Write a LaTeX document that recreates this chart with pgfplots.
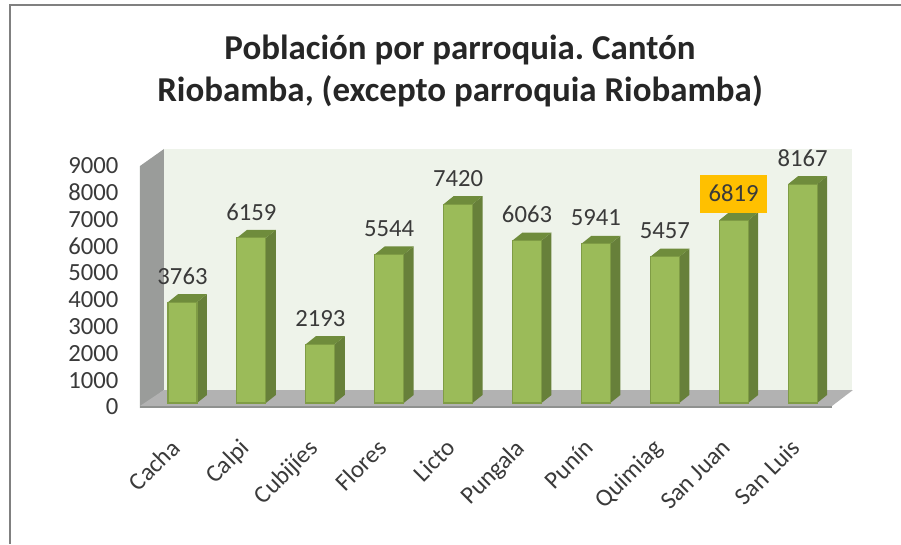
\documentclass[border=0pt]{standalone}
\usepackage{pgfplots}
\pgfplotsset{compat=1.18}
\usepackage{fontspec}
\setmainfont{Carlito}
\frenchspacing
\definecolor{barfront}{HTML}{9BBB59}
\definecolor{barline}{HTML}{7F9C45}
\definecolor{barside}{HTML}{67803A}
\definecolor{bartop}{HTML}{6F8C3C}
\definecolor{wallback}{HTML}{EEF3EA}
\definecolor{wallleft}{HTML}{9A9C9A}
\definecolor{floorc}{HTML}{B2B2B2}
\definecolor{flooredge}{HTML}{8F918F}
\definecolor{txt}{HTML}{3A3A3A}
\definecolor{barhl}{HTML}{FFC000}
\begin{document}
\begin{tikzpicture}[x=0.75pt,y=0.75pt]
\path[use as bounding box] (0,0) rectangle (901,544);
\draw[gray,line width=0.9pt] (901,539) -- (10,539) -- (10,0);
\node[font=\fontsize{26.2}{31.5}\selectfont\bfseries,text=black!85,align=center] at (460,473) {Población por parroquia. Cantón\\Riobamba, (excepto parroquia Riobamba)};
\begin{axis}[
  at={(93.75pt,99pt)},anchor=south west,
  scale only axis,width=551.25pt,height=200.25pt,
  xmin=-0.8345,xmax=9.833,ymin=-336,ymax=9627,
  axis line style={draw=none},clip=false,
  major tick length=0pt,
  xtick={0,1,2,3,4,5,6,7,8,9},
  xticklabels={Cacha,Calpi,Cubijíes,Flores,Licto,Pungala,Punín,Quimiag,San Juan,San Luis},
  xticklabel style={rotate=45,anchor=north east,font=\fontsize{18.5}{20}\selectfont,text=txt,xshift=-17pt,yshift=-3.1pt},
  ytick={0,1000,2000,3000,4000,5000,6000,7000,8000,9000},
  yticklabel style={font=\fontsize{18.5}{20}\selectfont,text=txt,yshift=-3pt,xshift=-1.5pt},
  /pgf/number format/assume math mode=true,
  /pgf/number format/.cd,set thousands separator={},
]
% walls and floor
\addplot[fill=wallback,draw=none] coordinates {(-0.2685,485)(9.717,485)(9.717,9478)(-0.2685,9478)} -- cycle;
\addplot[fill=wallleft,draw=none] coordinates {(-0.617,-187)(-0.2685,485)(-0.2685,9478)(-0.617,8843)} -- cycle;
\addplot[fill=floorc,draw=none] coordinates {(-0.617,-112)(-0.2685,485)(9.731,485)(9.426,-112)} -- cycle;
\addplot[fill=flooredge,draw=none] coordinates {(-0.617,-187)(-0.617,-112)(9.426,-112)(9.426,-187)} -- cycle;
% bar side faces
\addplot[fill=barside,draw=none] coordinates {(0.21,0)(0.355,299)(0.355,4062)(0.21,3763)} -- cycle;
\addplot[fill=barside,draw=none] coordinates {(1.21,0)(1.355,299)(1.355,6458)(1.21,6159)} -- cycle;
\addplot[fill=barside,draw=none] coordinates {(2.21,0)(2.355,299)(2.355,2492)(2.21,2193)} -- cycle;
\addplot[fill=barside,draw=none] coordinates {(3.21,0)(3.355,299)(3.355,5843)(3.21,5544)} -- cycle;
\addplot[fill=barside,draw=none] coordinates {(4.21,0)(4.355,299)(4.355,7719)(4.21,7420)} -- cycle;
\addplot[fill=barside,draw=none] coordinates {(5.21,0)(5.355,299)(5.355,6362)(5.21,6063)} -- cycle;
\addplot[fill=barside,draw=none] coordinates {(6.21,0)(6.355,299)(6.355,6240)(6.21,5941)} -- cycle;
\addplot[fill=barside,draw=none] coordinates {(7.21,0)(7.355,299)(7.355,5756)(7.21,5457)} -- cycle;
\addplot[fill=barside,draw=none] coordinates {(8.21,0)(8.355,299)(8.355,7118)(8.21,6819)} -- cycle;
\addplot[fill=barside,draw=none] coordinates {(9.21,0)(9.355,299)(9.355,8466)(9.21,8167)} -- cycle;
% bar top faces
\addplot[fill=bartop,draw=none] coordinates {(-0.21,3763)(-0.065,4062)(0.355,4062)(0.21,3763)} -- cycle;
\addplot[fill=bartop,draw=none] coordinates {(0.79,6159)(0.935,6458)(1.355,6458)(1.21,6159)} -- cycle;
\addplot[fill=bartop,draw=none] coordinates {(1.79,2193)(1.935,2492)(2.355,2492)(2.21,2193)} -- cycle;
\addplot[fill=bartop,draw=none] coordinates {(2.79,5544)(2.935,5843)(3.355,5843)(3.21,5544)} -- cycle;
\addplot[fill=bartop,draw=none] coordinates {(3.79,7420)(3.935,7719)(4.355,7719)(4.21,7420)} -- cycle;
\addplot[fill=bartop,draw=none] coordinates {(4.79,6063)(4.935,6362)(5.355,6362)(5.21,6063)} -- cycle;
\addplot[fill=bartop,draw=none] coordinates {(5.79,5941)(5.935,6240)(6.355,6240)(6.21,5941)} -- cycle;
\addplot[fill=bartop,draw=none] coordinates {(6.79,5457)(6.935,5756)(7.355,5756)(7.21,5457)} -- cycle;
\addplot[fill=bartop,draw=none] coordinates {(7.79,6819)(7.935,7118)(8.355,7118)(8.21,6819)} -- cycle;
\addplot[fill=bartop,draw=none] coordinates {(8.79,8167)(8.935,8466)(9.355,8466)(9.21,8167)} -- cycle;
% front faces with labels
\addplot[ybar,bar width=21.75pt,bar shift=0pt,fill=barfront,draw=barline,line width=0.8pt,
  nodes near coords,point meta=y,
  every node near coord/.style={anchor=center,yshift=19.5pt,font=\fontsize{18.5}{20}\selectfont,text=txt,
    /pgf/number format/.cd,set thousands separator={}}]
  coordinates {(0,3763)(1,6159)(2,2193)(3,5544)(4,7420)(5,6063)(6,5941)(7,5457)(9,8167)};
\addplot[ybar,bar width=21.75pt,bar shift=0pt,fill=barfront,draw=barline,line width=0.8pt,
  nodes near coords,point meta=y,
  every node near coord/.style={anchor=center,yshift=20pt,font=\fontsize{18.5}{20}\selectfont,text=txt,
    fill=barhl,minimum width=50pt,minimum height=28.5pt,inner sep=0pt,
    /pgf/number format/.cd,set thousands separator={}}]
  coordinates {(8,6819)};
\end{axis}
\end{tikzpicture}
\end{document}
